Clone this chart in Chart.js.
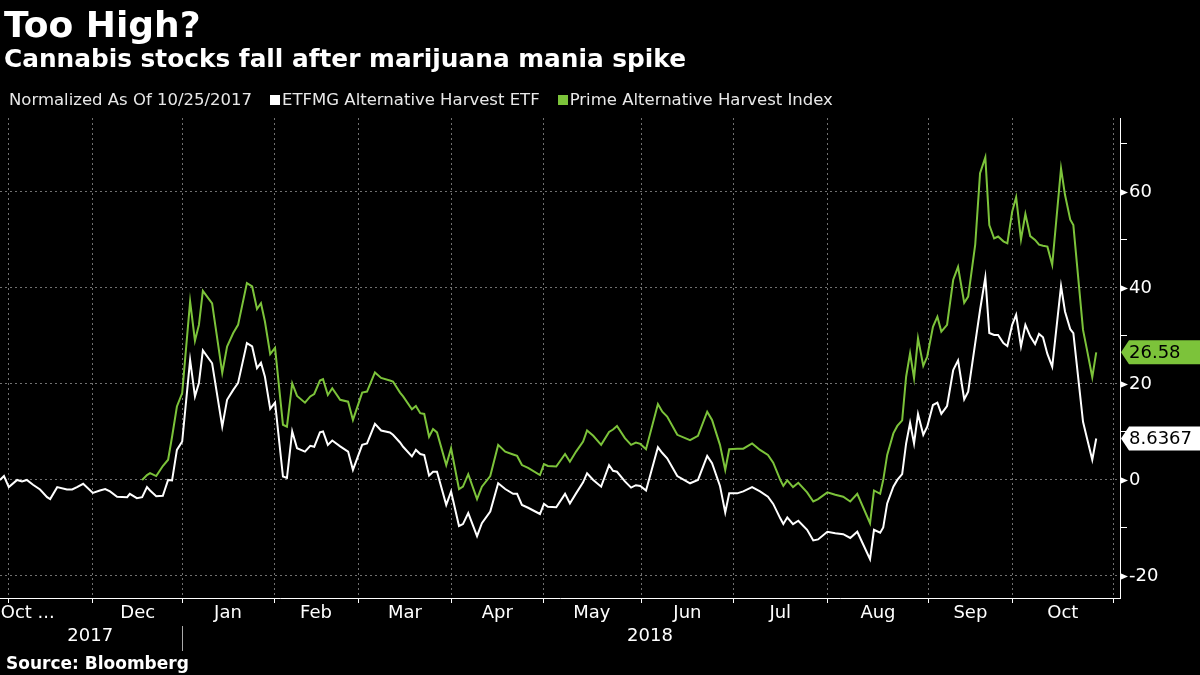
<!DOCTYPE html>
<html>
<head>
<meta charset="utf-8">
<title>Too High?</title>
<script src="https://cdn.jsdelivr.net/npm/chart.js@4.4.1/dist/chart.umd.min.js"></script>
<style>
  html, body { margin: 0; padding: 0; background: #000; }
  body { width: 1200px; height: 675px; position: relative; overflow: hidden;
         font-family: 'DejaVu Sans', sans-serif; color: #fff; }
  #chart { position: absolute; left: 0; top: 0; }
  .txt { position: absolute; white-space: nowrap; line-height: 1; }
  .title { left: 4px; top: 7px; font-size: 36px; font-weight: bold; }
  .subtitle { left: 4px; top: 47px; font-size: 24.8px; font-weight: bold; }
  .legend { left: 9px; top: 92px; font-size: 16.5px; color: #e8e8e8; }
  .legend .sw { display: inline-block; width: 10px; height: 10px; margin: 0 2px 0 18px; }
  .source { left: 6px; top: 655px; font-size: 17px; font-weight: bold; }
</style>
</head>
<body>
<canvas id="chart" width="1200" height="675"></canvas>
<div class="txt title">Too High?</div>
<div class="txt subtitle">Cannabis stocks fall after marijuana mania spike</div>
<div class="txt legend">Normalized As Of 10/25/2017<span class="sw" style="background:#fff"></span>ETFMG Alternative Harvest ETF<span class="sw" style="background:#7cc33a"></span>Prime Alternative Harvest Index</div>
<div class="txt source">Source: Bloomberg</div>
<script>
// trading days since the start of the chart (10/25/2017)
const days = [
  0.0, 0.9, 2.0, 3.9, 5.0, 6.1, 7.5, 9.1, 10.7, 11.4,
  13.0, 15.2, 16.4, 17.5, 18.9, 21.1, 22.7, 23.9, 25.0, 26.6,
  28.9, 29.5, 31.1, 32.3, 33.4, 34.1, 35.5, 37.0, 38.2, 39.1,
  40.2, 41.4, 43.2, 44.3, 45.2, 46.1, 48.2, 50.5, 51.6, 53.0,
  54.1, 56.1, 57.3, 58.4, 59.3, 60.2, 61.4, 62.5, 64.3, 65.2,
  66.4, 67.5, 69.3, 70.5, 71.4, 72.7, 73.4, 74.5, 75.5, 77.3,
  79.1, 80.2, 82.3, 83.4, 85.2, 86.6, 88.6, 89.3, 90.9, 91.6,
  93.6, 94.5, 95.5, 96.4, 97.5, 98.4, 99.3, 101.4, 102.5, 104.3,
  105.2, 106.4, 108.4, 109.5, 111.4, 113.2, 114.8, 116.6, 117.5, 118.6,
  120.0, 122.7, 123.6, 124.5, 126.4, 128.4, 129.5, 130.9, 132.5, 133.4,
  134.8, 136.6, 138.4, 139.3, 140.2, 142.0, 143.4, 144.5, 145.5, 146.8,
  149.5, 150.5, 151.6, 153.9, 156.8, 158.6, 160.7, 161.8, 163.6, 164.8,
  165.7, 167.5, 168.9, 170.9, 172.7, 174.5, 175.7, 177.3, 178.0, 178.9,
  180.2, 181.4, 183.4, 184.8, 185.9, 188.0, 189.8, 191.6, 193.2, 194.8,
  197.7, 198.6, 200.0, 200.7, 201.6, 203.0, 203.9, 205.0, 205.9, 206.8,
  207.7, 208.6, 209.8, 210.7, 212.0, 213.0, 213.9, 215.2, 216.6, 217.7,
  219.1, 220.0, 221.6, 222.7, 223.9, 224.8, 225.9, 226.8, 228.0, 228.9,
  230.0, 230.9, 232.0, 233.0, 234.1, 235.2, 236.1, 237.0, 238.0, 239.1,
  241.1, 242.0, 243.2, 243.9, 246.1, 247.0, 248.2, 249.1
];

const etfValues = [
  0, 0.8, -1.5, 0, -0.3, 0, -1, -2, -3.6, -4,
  -1.5, -2, -2, -1.5, -0.8, -2.7, -2.2, -1.9, -2.4, -3.5,
  -3.6, -2.9, -3.8, -3.6, -1.5, -2.2, -3.4, -3.3, 0, -0.1,
  6.25, 8, 25, 17.4, 20.2, 27, 24.3, 11.1, 16.7, 18.75,
  20.2, 28.5, 27.8, 23.3, 24.4, 21.5, 14.8, 16.1, 0.7, 0.4,
  10.1, 6.6, 5.9, 7.1, 6.9, 9.9, 10.1, 7.3, 8.2, 7,
  5.9, 2.1, 7.3, 7.6, 11.7, 10.3, 9.9, 9.4, 7.8, 6.9,
  4.9, 6.25, 5.4, 5.2, 0.9, 1.7, 1.7, -5.2, -2.4, -9.6,
  -9.2, -6.9, -11.7, -9, -6.6, -0.7, -1.9, -2.9, -2.9, -5.2,
  -5.8, -7.1, -5, -5.6, -5.7, -2.9, -4.9, -2.8, -0.5, 1.4,
  0, -1.4, 3.1, 1.9, 1.7, -0.3, -1.6, -1.1, -1.25, -2.2,
  6.8, 5.6, 4.5, 0.8, -0.7, 0, 5, 3.5, -1.25, -6.8,
  -2.8, -2.8, -2.4, -1.5, -2.4, -3.5, -5, -8, -9.2, -7.8,
  -9.2, -8.5, -10.4, -12.6, -12.4, -10.8, -11.1, -11.3, -12.1, -10.8,
  -16.5, -10.4, -11, -9.9, -4.9, -1.4, 0, 1.2, 7.6, 11.9,
  7.6, 13.75, 9.4, 11.1, 15.6, 16.1, 13.75, 15.4, 22.9, 24.9,
  16.8, 18.4, 28.5, 35.4, 42.2, 30.6, 30.2, 30.2, 28.5, 27.9,
  32.3, 34.4, 27.8, 32.3, 29.9, 28.3, 30.4, 29.7, 26.25, 23.6,
  40.4, 35.1, 31.4, 30.6, 12.1, 8.7, 4.2, 8.6367
];

const primeValues = [
  null, null, null, null, null, null, null, null, null, null,
  null, null, null, null, null, null, null, null, null, null,
  null, null, null, 0, 1.0, 1.4, 0.8, 2.9, 4.2, 9,
  15.3, 18.1, 37.2, 29, 32.3, 39.4, 36.8, 22.3, 27.8, 30.6,
  32.3, 41, 40.3, 35.6, 36.8, 33, 26.2, 27.5, 11.5, 11.1,
  20.1, 17.5, 16.1, 17.4, 17.9, 20.7, 21, 17.7, 19.1, 16.7,
  16.3, 12.5, 18.2, 18.4, 22.4, 21.25, 20.7, 20.5, 18.2, 17.4,
  14.7, 15.4, 13.9, 13.75, 9, 10.6, 9.9, 3.1, 6.6, -1.9,
  -1.4, 1.2, -4, -1.4, 0.8, 7.3, 5.9, 5.3, 5, 3.1,
  2.5, 1, 3.3, 2.9, 2.8, 5.4, 3.8, 5.9, 8, 10.3,
  9.2, 7.3, 10, 10.5, 11.25, 8.7, 7.3, 7.8, 7.5, 6.4,
  15.8, 14.2, 13.2, 9.4, 8.3, 9.2, 14.2, 12.5, 7.3, 2.1,
  6.4, 6.5, 6.5, 7.6, 6.25, 5.2, 3.6, 0, -1.25, -0.1,
  -1.5, -0.6, -2.6, -4.5, -4, -2.6, -3.1, -3.5, -4.5, -2.9,
  -9, -2.2, -2.9, 0, 5.2, 9.7, 11.25, 12.4, 21.5, 26.4,
  21.2, 29.5, 23.75, 25.7, 31.9, 34, 30.9, 32.3, 41.7, 44.4,
  36.9, 38.2, 49, 63.9, 67.2, 53.1, 50.3, 50.7, 49.7, 49.3,
  55.9, 58.9, 50.1, 55.4, 50.8, 50, 49, 48.8, 48.6, 44.8,
  64.9, 59.4, 54.2, 53.1, 31.25, 27.1, 21.4, 26.58
];

// month boundaries (trading day of the 1st) and month label positions
const monthEdges = [2.0, 21.1, 41.4, 62.3, 81.4, 102.5, 123.4, 145.7, 166.6, 188.0, 210.9, 230.0, 253.0];
const monthLabels = ['Oct ...', 'Dec', 'Jan', 'Feb', 'Mar', 'Apr', 'May', 'Jun', 'Jul', 'Aug', 'Sep', 'Oct'];
const monthLabelDays = [6.3, 31.3, 51.8, 71.8, 92.0, 113.0, 134.5, 156.2, 177.3, 199.5, 220.5, 241.5];
const yearLabels = ['2017', '2018'];
const yearLabelDays = [20.5, 147.7];
const yearDivider = 41.4;

// y ticks: every 10 gets a tick mark, every 20 gets a label and a gridline
const yTickValues = [-20, -10, 0, 10, 20, 30, 40, 50, 60, 70];

const GREEN = '#7cc33a';
const GRID = '#707070';
const FONT = "'DejaVu Sans', sans-serif";

Chart.defaults.font.family = FONT;
Chart.defaults.font.size = 18;
Chart.defaults.color = '#fff';

function toPoints(vals) {
    return days.map((d, i) => ({ x: d, y: vals[i] })).filter(p => p.y !== null);
}

const isMajor = v => v % 20 === 0;

// triangles on the major y ticks and the last-value tags
const axisMarks = {
    id: 'axisMarks',
    afterDraw(chart) {
        const { ctx, chartArea } = chart;
        const y = chart.scales.y;
        const x0 = chartArea.right;
        ctx.save();
        ctx.fillStyle = '#fff';
        y.ticks.forEach(t => {
            if (!isMajor(t.value)) return;
            const py = Math.round(y.getPixelForValue(t.value)) + 0.5;
            ctx.beginPath();
            ctx.moveTo(x0, py - 3.5);
            ctx.lineTo(x0 + 8, py);
            ctx.lineTo(x0, py + 3.5);
            ctx.closePath();
            ctx.fill();
        });

        chart.data.datasets.forEach(ds => {
            const last = ds.data[ds.data.length - 1];
            const py = y.getPixelForValue(last.y);
            const h = 24;
            ctx.fillStyle = ds.borderColor;
            ctx.beginPath();
            ctx.moveTo(x0 + 1, py);
            ctx.lineTo(x0 + 9, py - h / 2);
            ctx.lineTo(chart.width, py - h / 2);
            ctx.lineTo(chart.width, py + h / 2);
            ctx.lineTo(x0 + 9, py + h / 2);
            ctx.closePath();
            ctx.fill();
            ctx.fillStyle = '#000';
            ctx.font = '18px ' + FONT;
            ctx.textBaseline = 'middle';
            ctx.textAlign = 'left';
            ctx.fillText(String(last.y), x0 + 9, py + 1);
        });
        ctx.restore();
    }
};

new Chart(document.getElementById('chart'), {
    type: 'line',
    data: {
        datasets: [{
            label: 'Prime Alternative Harvest Index',
            data: toPoints(primeValues),
            borderColor: GREEN,
            borderWidth: 2,
            pointRadius: 0,
            tension: 0
        }, {
            label: 'ETFMG Alternative Harvest ETF',
            data: toPoints(etfValues),
            borderColor: '#ffffff',
            borderWidth: 2,
            pointRadius: 0,
            tension: 0
        }]
    },
    options: {
        responsive: false,
        animation: false,
        layout: { padding: { top: 118, bottom: 23, left: 0, right: 0 } },
        plugins: { legend: { display: false }, tooltip: { enabled: false } },
        scales: {
            x: {
                type: 'linear',
                position: 'bottom',
                min: 0,
                max: 254.5,
                afterBuildTicks: s => {
                    s.ticks = monthEdges.map(v => ({ value: v, edge: true }))
                        .concat(monthLabelDays.map((v, i) => ({ value: v, label: monthLabels[i] })));
                },
                afterFit: s => { s.height = 28; },
                ticks: {
                    autoSkip: false,
                    maxRotation: 0,
                    padding: 0,
                    callback: (v, i, ticks) => ticks[i].label || ''
                },
                grid: {
                    color: c => (c.tick && c.tick.edge ? GRID : 'transparent'),
                    tickColor: c => (c.tick && c.tick.edge ? '#fff' : 'transparent'),
                    tickLength: 5,
                    lineWidth: 1
                },
                border: { color: '#fff', width: 1, dash: [2, 3] }
            },
            x2: {
                type: 'linear',
                position: 'bottom',
                min: 0,
                max: 254.5,
                afterBuildTicks: s => {
                    s.ticks = [
                        { value: yearLabelDays[0], label: yearLabels[0] },
                        { value: yearDivider, divider: true },
                        { value: yearLabelDays[1], label: yearLabels[1] }
                    ];
                },
                afterFit: s => { s.height = 26; },
                ticks: {
                    autoSkip: false,
                    maxRotation: 0,
                    padding: -25,
                    callback: (v, i, ticks) => ticks[i].label || ''
                },
                grid: {
                    drawOnChartArea: false,
                    tickLength: 25,
                    tickColor: c => (c.tick && c.tick.divider ? '#aaa' : 'transparent')
                },
                border: { display: false }
            },
            y: {
                position: 'right',
                min: -24.6,
                max: 75.4,
                afterBuildTicks: s => {
                    s.ticks = yTickValues.map(v => ({ value: v }));
                },
                afterFit: s => { s.width = 80; },
                ticks: {
                    autoSkip: false,
                    padding: 2,
                    callback: v => (isMajor(v) ? String(v) : '')
                },
                grid: {
                    color: c => (c.tick && isMajor(c.tick.value) ? GRID : 'transparent'),
                    tickColor: c => (c.tick && !isMajor(c.tick.value) ? '#fff' : 'transparent'),
                    tickLength: 7
                },
                border: { color: '#fff', width: 1, dash: [2, 3] }
            }
        }
    },
    plugins: [axisMarks]
});
</script>
</body>
</html>
